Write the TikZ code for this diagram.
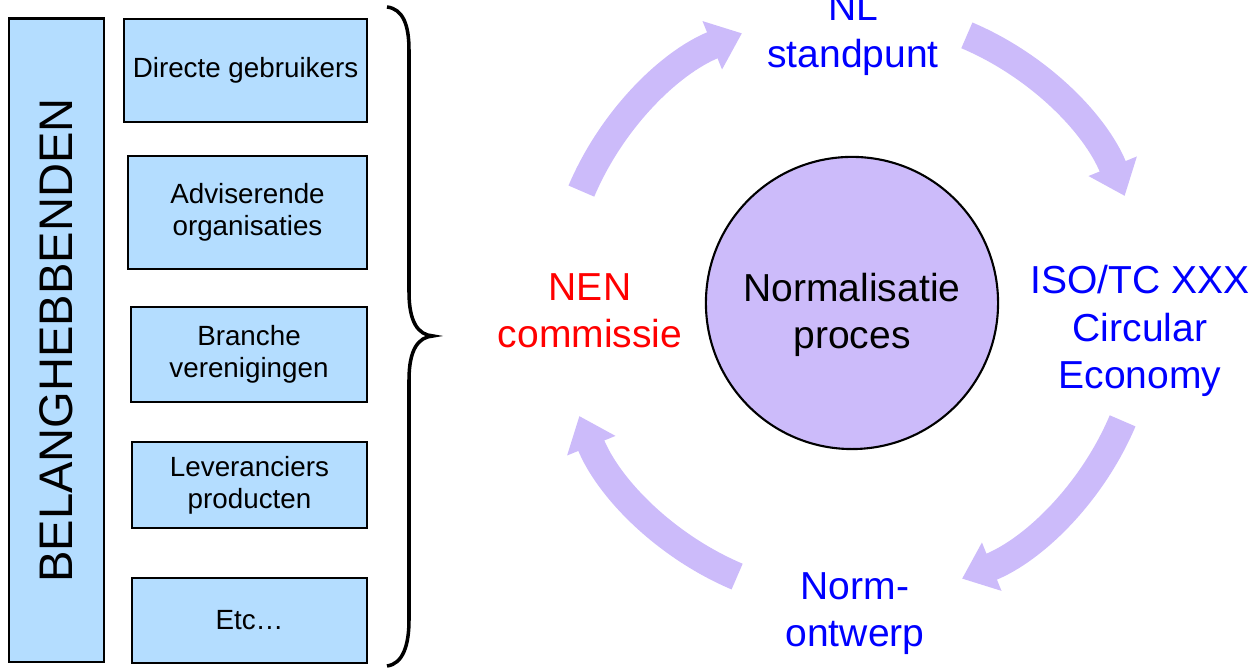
\documentclass[tikz,border=0pt]{standalone}
\usepackage{fontspec}
\setmainfont{Liberation Sans}
\usepackage{tikz}
\usetikzlibrary{positioning,calc,arrows.meta}
\definecolor{boxblue}{RGB}{180,221,255}
\definecolor{lilac}{RGB}{204,187,250}
\definecolor{nlblue}{RGB}{0,0,255}

\begin{document}
\begin{tikzpicture}[
	x=0.01cm, y=0.01cm,
	box/.style = {rectangle, draw=black, line width=0.6pt, fill=boxblue,
		align=center, inner sep=0pt,
		font=\fontsize{7.9}{9.1}\selectfont},
	tag/.style = {align=center, inner sep=0pt,
		font=\fontsize{11.1}{13.5}\selectfont},
	cyclearrow/.style = {lilac, line width=0.28cm,
		-{Triangle[length=0.32cm,width=0.5cm]}},
	]
	\useasboundingbox (0,0) rectangle (1256,668);

	% belanghebbenden
	\node[box, rotate=90, line width=0.75pt, minimum width=6.43cm, minimum height=0.95cm,
		font=\fontsize{13.4}{16}\selectfont] (belang) at (56.5,327.5) {BELANGHEBBENDEN};

	\node[box, minimum width=2.43cm, minimum height=1.03cm] (direct) at (245.5,597.5) {Directe gebruikers};
	\node[box, minimum width=2.39cm, minimum height=1.13cm] (advies) at (247.5,455.5) {Adviserende\\organisaties};
	\node[box, minimum width=2.36cm, minimum height=0.95cm] (branche) at (249,313.5) {Branche\\verenigingen};
	\node[box, minimum width=2.35cm, minimum height=0.86cm] (lever) at (249.5,183) {Leveranciers\\producten};
	\node[box, minimum width=2.35cm, minimum height=0.85cm] (etc) at (249.5,47.5) {Etc…};

	\draw[line width=1pt] (387,661) .. controls (403,659) and (409,643) .. (409,618) -- (409,376)
		.. controls (409,346) and (418,333) .. (433,332)
		.. controls (418,331) and (409,318) .. (409,288) -- (409,48)
		.. controls (409,23) and (403,4) .. (387,2);

	% normalisatie cyclus
	\node[circle, draw=black, line width=0.6pt, fill=lilac, minimum size=2.92cm, inner sep=0pt,
		label={[tag, yshift=-0.12cm]center:Normalisatie\\proces}] (proces) at (852,365) {};

	\node[tag, text=nlblue] (nl) at (853,633.5) {NL\\standpunt};
	\node[tag, text=nlblue] (iso) at (1140,337) {ISO/TC XXX\\Circular\\Economy};
	\node[tag, text=nlblue] (ontwerp) at (855,54.5) {Norm-\\ontwerp};
	\node[tag, text=red] (nen) at (590,357) {NEN\\commissie};

	\coordinate (O) at (852,362);
	\foreach \s/\e in {157/112, 67/22, -23/-68, -113/-158}
		\draw[cyclearrow] (O) ++(\s:294) arc[start angle=\s, end angle=\e, radius=2.94cm];
\end{tikzpicture}
\end{document}
